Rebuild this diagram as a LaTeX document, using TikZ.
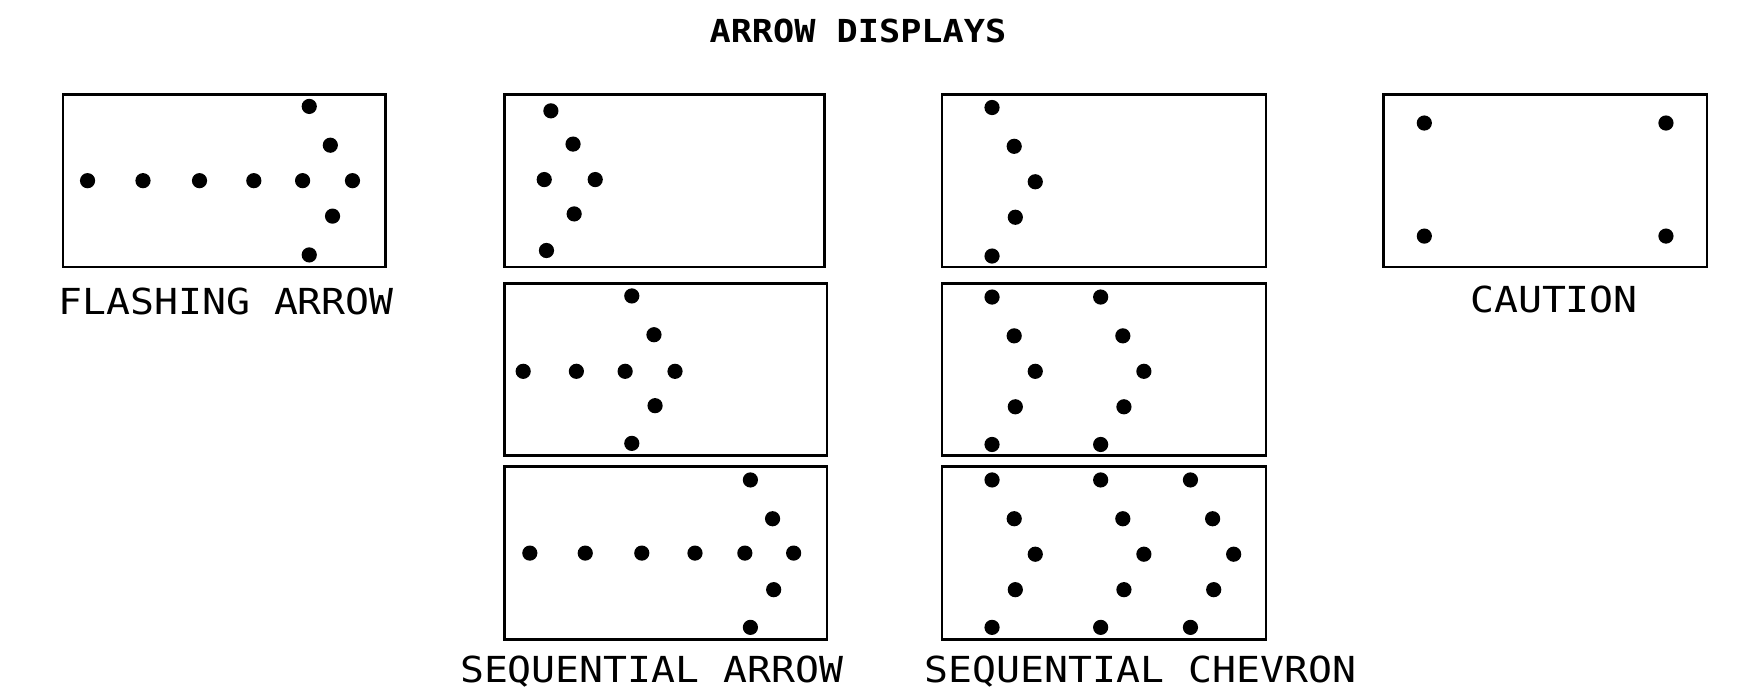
\documentclass[tikz,border=0pt]{standalone}
\usepackage{fontspec}
\newfontfamily\cadfont{DejaVu Sans Mono}
\newcommand\squash[1]{\scalebox{1}[0.9]{#1}}
\begin{document}
\begin{tikzpicture}[x=0.5542pt,y=-0.5542pt,
  panel/.style={draw=black,line width=1.3pt},
  dot/.style={fill=black},
  lbl/.style={font=\cadfont\fontsize{19.9}{20}\selectfont, inner sep=0pt},
  ttl/.style={font=\cadfont\bfseries\fontsize{17.6}{18}\selectfont, inner sep=0pt}]
\useasboundingbox (0,0) rectangle (1568,631);

\node[ttl] (title) at (774,28) {\squash{ARROW DISPLAYS}};

% Flashing arrow
\draw[panel] (57,85) rectangle (348,241);
\foreach \x/\y in {79/163,129/163,180/163,229/163,273/163,318/163,279/96,298/131,300/195,279/230}
  \fill[dot] (\x,\y) circle[radius=3.8pt];
\node[lbl] (flash) at (204,272) {\squash{FLASHING ARROW}};

% Sequential arrow
\draw[panel] (455,85) rectangle (744,241);
\foreach \x/\y in {497/100,517/130,491/162,537/162,518/193,493/226}
  \fill[dot] (\x,\y) circle[radius=3.8pt];
\draw[panel] (455,256) rectangle (746,411);
\foreach \x/\y in {570/267,590/302,472/335,520/335,564/335,609/335,591/366,570/400}
  \fill[dot] (\x,\y) circle[radius=3.8pt];
\draw[panel] (455,421) rectangle (746,577);
\foreach \x/\y in {677/433,697/468,478/499,528/499,579/499,627/499,672/499,716/499,698/532,677/566}
  \fill[dot] (\x,\y) circle[radius=3.8pt];
\node[lbl] (seqarrow) at (588,606) {\squash{SEQUENTIAL ARROW}};

% Sequential chevron
\draw[panel] (850,85) rectangle (1142,241);
\foreach \x/\y in {895/97,915/132,934/164,916/196,895/231}
  \fill[dot] (\x,\y) circle[radius=3.8pt];
\draw[panel] (850,256) rectangle (1142,411);
\foreach \dx in {0,98}
  \foreach \x/\y in {895/268,915/303,934/335,916/367,895/401}
    \fill[dot] (\x+\dx,\y) circle[radius=3.8pt];
\draw[panel] (850,421) rectangle (1142,577);
\foreach \dx in {0,98,179}
  \foreach \x/\y in {895/433,915/468,934/500,916/532,895/566}
    \fill[dot] (\x+\dx,\y) circle[radius=3.8pt];
\node[lbl] (seqchev) at (1029,606) {\squash{SEQUENTIAL CHEVRON}};

% Caution
\draw[panel] (1248,85) rectangle (1540,241);
\foreach \x/\y in {1285/111,1503/111,1285/213,1503/213}
  \fill[dot] (\x,\y) circle[radius=3.8pt];
\node[lbl] (caution) at (1402,270) {\squash{CAUTION}};
\end{tikzpicture}
\end{document}
